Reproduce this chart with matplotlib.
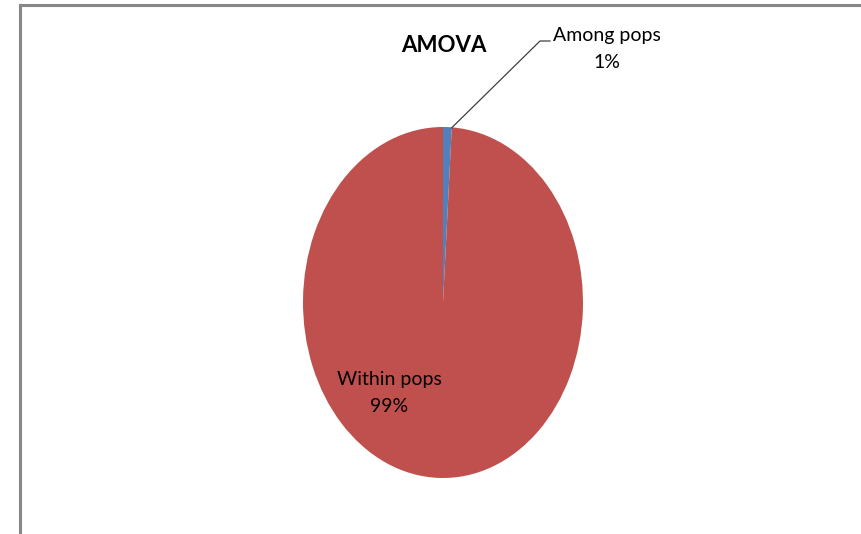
import matplotlib
matplotlib.use("Agg")
import matplotlib.pyplot as plt
from matplotlib.lines import Line2D

# AMOVA variance components (%)
categories = ["Among pops", "Within pops"]
values = [1, 99]
colors = ["#4F81BD", "#C0504D"]

plt.rcParams["font.family"] = ["Lato", "DejaVu Sans"]

W, H = 862, 534
fig = plt.figure(figsize=(W / 100, H / 100), dpi=100)
fig.patch.set_facecolor("white")

# chart area border (top and left edges visible)
fig.add_artist(Line2D([20 / W, 20 / W], [0, 1 - 5 / H], color="#878787", lw=2.2))
fig.add_artist(Line2D([20 / W, 1], [1 - 5 / H, 1 - 5 / H], color="#878787", lw=2.2))

# pie axes: elliptical plot area
px0, px1, py0, py1 = 303, 583, 127, 478
ax = fig.add_axes([px0 / W, 1 - py1 / H, (px1 - px0) / W, (py1 - py0) / H])
wedges, _ = ax.pie(values, colors=colors, startangle=90, counterclock=False,
                   radius=1.0, wedgeprops=dict(linewidth=0))
ax.set_aspect("auto")
ax.set_xlim(-1, 1)
ax.set_ylim(-1, 1)
ax.axis("off")

cx, cy = (px0 + px1) / 2, (py0 + py1) / 2
rx, ry = (px1 - px0) / 2, (py1 - py0) / 2


def to_data(x, y):
    return (x - cx) / rx, (cy - y) / ry


# title
fig.text(444 / W, 1 - 46 / H, "AMOVA", ha="center", va="center",
         fontsize=16, fontweight="bold", color="black")

# among-pops label with leader line
lx, ly = to_data(451.5, 128)
ex, ey = to_data(540, 41)
hx, hy = to_data(550, 41)
ax.plot([lx, ex, hx], [ly, ey, hy], color="#404040", lw=0.9, clip_on=False)
tx, ty = to_data(607, 49)
ax.text(tx, ty, f"{categories[0]}\n{values[0]}%", ha="center", va="center",
        fontsize=14, color="black", linespacing=1.65, clip_on=False)

# within-pops label
wx, wy = to_data(389, 393)
ax.text(wx, wy, f"{categories[1]}\n{values[1]}%", ha="center", va="center",
        fontsize=14, color="black", linespacing=1.65)

fig.savefig("out.png", dpi=100, facecolor="white")
